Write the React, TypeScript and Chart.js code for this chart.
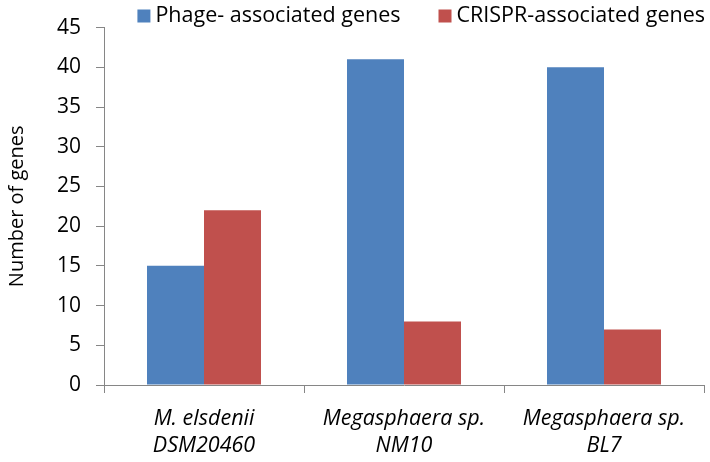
import React, { useEffect, useRef } from "react";
import { Chart, registerables } from "chart.js";

Chart.register(...registerables);

const categories: string[][] = [
  ["M. elsdenii", "DSM20460"],
  ["Megasphaera sp.", "NM10"],
  ["Megasphaera sp.", "BL7"],
];
const phageGenes: number[] = [15, 41, 40];
const crisprGenes: number[] = [22, 8, 7];
const seriesNames: string[] = ["Phage- associated genes", "CRISPR-associated genes"];
const yAxisTitle = "Number of genes";

const FONT = "'Open Sans', Lato, sans-serif";
const BLUE = "#4F81BD";
const RED = "#C0504D";

const legendPlugin = {
  id: "topLegend",
  afterDraw(chart: any) {
    const ctx = chart.ctx;
    const ds = chart.data.datasets;
    ctx.save();
    ctx.font = `21.5px ${FONT}`;
    ctx.textBaseline = "middle";
    const box = 13;
    const gapBoxText = 5;
    const gapItems = 38;
    const widths = ds.map((d: any) => ctx.measureText(d.label).width);
    let total = 0;
    widths.forEach((w: number, i: number) => {
      total += box + gapBoxText + w + (i < widths.length - 1 ? gapItems : 0);
    });
    let x = 705 - total;
    const cy = 16;
    ds.forEach((d: any, i: number) => {
      ctx.fillStyle = d.backgroundColor;
      ctx.fillRect(x, cy - box / 2, box, box);
      x += box + gapBoxText;
      ctx.fillStyle = "#000";
      ctx.textAlign = "left";
      ctx.fillText(d.label, x, cy);
      x += widths[i] + gapItems;
    });
    ctx.restore();
  },
};

export default function App() {
  const ref = useRef<HTMLCanvasElement | null>(null);
  useEffect(() => {
    document.body.style.margin = "0";
    const chart = new Chart(ref.current!, {
      type: "bar",
      data: {
        labels: categories,
        datasets: [
          { label: seriesNames[0], data: phageGenes, backgroundColor: BLUE, borderWidth: 0 },
          { label: seriesNames[1], data: crisprGenes, backgroundColor: RED, borderWidth: 0 },
        ],
      },
      options: {
        animation: false,
        responsive: false,
        maintainAspectRatio: false,
        layout: { padding: { top: 27, right: 6, left: 0, bottom: 0 } },
        plugins: { legend: { display: false }, tooltip: { enabled: false } },
        datasets: { bar: { categoryPercentage: 0.57, barPercentage: 1 } },
        scales: {
          x: {
            offset: true,
            afterFit: (s: any) => {
              s.height = 77;
            },
            grid: {
              offset: true,
              drawOnChartArea: false,
              drawTicks: true,
              tickLength: 8,
              color: "#868686",
            },
            border: { display: true, color: "#868686", width: 1 },
            ticks: {
              color: "#000",
              font: { family: FONT, size: 21.5, style: "italic", lineHeight: 1.26 },
              padding: 12,
              maxRotation: 0,
              autoSkip: false,
            },
          },
          y: {
            min: 0,
            max: 45,
            afterFit: (s: any) => {
              s.width = 104;
            },
            ticks: {
              stepSize: 5,
              color: "#000",
              font: { family: FONT, size: 21 },
              padding: 15,
            },
            grid: {
              drawOnChartArea: false,
              drawTicks: true,
              tickLength: 8,
              color: "#868686",
            },
            border: { display: true, color: "#868686", width: 1 },
            title: {
              display: true,
              text: yAxisTitle,
              color: "#000",
              font: { family: FONT, size: 20 },
              padding: { top: 5, bottom: 0 },
            },
          },
        },
      },
      plugins: [legendPlugin],
    });
    return () => chart.destroy();
  }, []);
  return (
    <div style={{ width: 710, height: 462 }}>
      <canvas ref={ref} width={710} height={462} style={{ display: "block" }} />
    </div>
  );
}
